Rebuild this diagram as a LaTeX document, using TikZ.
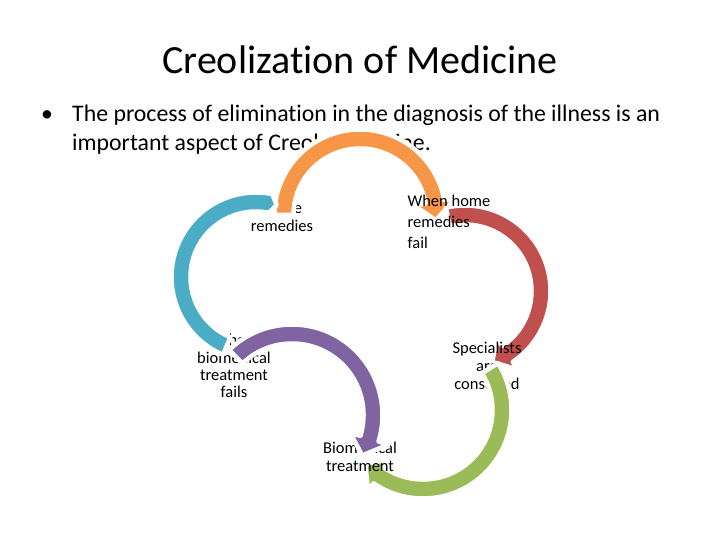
\documentclass[tikz,border=0pt]{standalone}
\usepackage{fontspec}
\setmainfont{Carlito}[Ligatures=NoCommon]
\definecolor{corange}{HTML}{F79646}
\definecolor{cblue}{HTML}{4BACC6}
\definecolor{cred}{HTML}{C0504D}
\definecolor{cgreen}{HTML}{9BBB59}
\definecolor{cpurple}{HTML}{8064A2}
\newcommand{\carrow}[8]{%
  \pgfmathsetmacro{\aro}{#3+9.5}\pgfmathsetmacro{\ari}{#3-9.5}%
  \pgfmathsetmacro{\aho}{#3+#8}\pgfmathsetmacro{\ahi}{#3-#8}%
  \filldraw[arcband, fill=#7, shift={(#1,#2)}]
    (#4:\aro) arc[start angle=#4, end angle=#5, radius=\aro]
    -- (#5:\aho) -- (#6:#3) -- (#5:\ahi) -- (#5:\ari)
    arc[start angle=#5, end angle=#4, radius=\ari] -- cycle;}
\begin{document}
\begin{tikzpicture}[x=1pt,y=1pt,
  arcband/.style={draw=white, line width=4.5pt, line join=round},
  lbl/.style={inner sep=0pt, font=\fontsize{16.5}{18}\selectfont, align=center},
  body/.style={inner sep=0pt, anchor=base west, font=\fontsize{23.8}{28}\selectfont}]
\useasboundingbox (0,0) rectangle (720,540);
\fill[white] (0,0) rectangle (720,540);
\node[inner sep=0pt, font=\fontsize{40}{44}\selectfont] (title) at (360,480) {Creolization of Medicine};
\node[body, anchor=base] (bul) at (47,418) {\textbullet};
\node[body] (l1) at (72,418) {The process of elimination in the diagnosis of the illness is an};
\node[body] (l2) at (72,389) {important aspect of Creole medicine.};
% labels under later shapes
\node[lbl] (home) at (282,323) {Home\\remedies};
\node[lbl, font=\fontsize{16.5}{17.3}\selectfont] (wbtf) at (234,174) {When\\biomedical\\treatment\\fails};
\carrow{360}{325}{76}{180}{10}{-4}{corange}{21}
\carrow{465}{249}{76}{103}{-56}{-69}{cred}{19}
\node[lbl, align=left, font=\fontsize{16.5}{21}\selectfont] (whrf) at (449,318) {When home\\remedies\\fail};
\node[lbl] (sac) at (487,174) {Specialists\\are\\consulted};
\carrow{423}{130}{79}{32}{-124}{-137}{cgreen}{19}
\node[lbl] (bt) at (360,83) {Biomedical\\treatment};
\carrow{292}{125}{81}{134}{-17}{-30}{cpurple}{20}
\carrow{256}{263}{75}{247}{80}{74}{cblue}{12}
\end{tikzpicture}
\end{document}
